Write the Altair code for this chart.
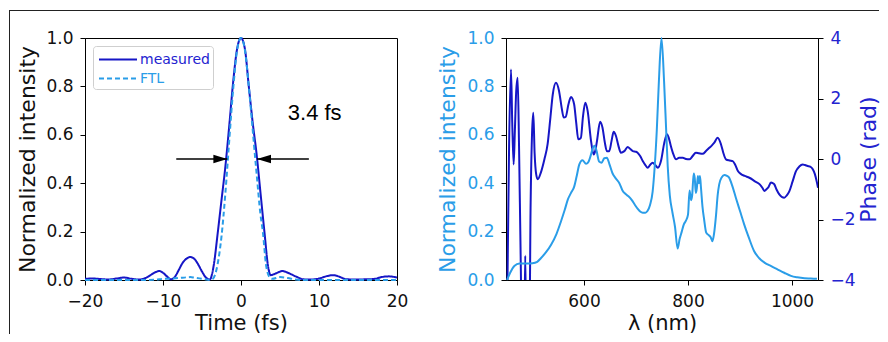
import altair as alt
import pandas as pd

# ---------------- data: left panel (temporal intensity) ----------------
t_meas = [-20, -19, -18, -17, -16, -15, -14, -13, -12, -11, -10.5, -10, -9.5, -9, -8.5, -8,
          -7.5, -7, -6.5, -6, -5.5, -5, -4.5, -4.0, -3.5, -3.0, -2.5, -2.0, -1.5, -1.0, -0.5,
          0, 0.5, 1.0, 1.5, 2.0, 2.5, 3.0, 3.5, 3.8, 4.3, 4.8, 5.3, 6.0, 7.0, 8.0, 9.0, 10.0,
          11.0, 11.8, 12.5, 13.5, 15.0, 16.0, 17.0, 18.0, 19.0, 20.0]
v_meas = [0.005, 0.006, 0.004, 0.002, 0.006, 0.010, 0.005, 0.002, 0.012, 0.032, 0.037, 0.030,
          0.015, 0.003, 0.012, 0.040, 0.070, 0.088, 0.095, 0.088, 0.065, 0.035, 0.010, 0.002,
          0.060, 0.190, 0.330, 0.470, 0.640, 0.820, 0.955, 1.000, 0.955, 0.800, 0.650, 0.520,
          0.360, 0.200, 0.050, 0.020, 0.025, 0.032, 0.037, 0.030, 0.015, 0.003, 0.002, 0.006,
          0.016, 0.020, 0.015, 0.003, 0.002, 0.003, 0.004, 0.012, 0.015, 0.010]
t_ftl = [-20, -12, -11, -10, -9, -8, -7, -6.5, -6, -5, -4.0, -3.6, -3.0, -2.5, -2.0, -1.5,
         -1.0, -0.5, 0, 0.5, 1.0, 1.5, 2.0, 2.5, 2.8, 3.2, 3.6, 4.0, 5.0, 6.0, 7.0, 8.0, 20]
v_ftl = [0.0, 0.0, 0.001, 0.005, 0.006, 0.008, 0.011, 0.012, 0.010, 0.005, 0.0, 0.005,
         0.065, 0.180, 0.360, 0.580, 0.790, 0.950, 1.000, 0.950, 0.800, 0.620, 0.440, 0.270,
         0.200, 0.065, 0.015, 0.005, 0.012, 0.008, 0.002, 0.0, 0.0]
series_names = ["measured", "FTL"]

fwhm_text = ["3.4 fs"]
fwhm_t = [6.0]
fwhm_v = [0.661]
arrow_start = [-8.3, 8.7]
arrow_tip = [-1.75, 2.05]
arrow_level = [0.5, 0.5]

t_ticks = [-20, -10, 0, 10, 20]
int_ticks = [0.0, 0.2, 0.4, 0.6, 0.8, 1.0]

# ---------------- data: right panel (spectrum and phase) ----------------
lam_spec = [452, 458, 466, 476, 490, 501, 510, 517, 527, 537, 547, 556, 563, 569, 575, 581,
            586, 591, 597, 604, 609, 613, 617, 620, 624, 629, 634, 639, 644, 649, 655, 661,
            668, 674, 680, 686, 692, 698, 703, 708, 713, 718, 722, 727, 732, 736, 740, 744,
            749, 754, 758, 761, 765, 770, 775, 780, 784, 788, 792, 796, 800, 803, 806, 808,
            811, 813, 815, 817, 819, 821, 823, 825, 828, 831, 835, 840, 844, 847, 850, 854,
            857, 860, 865, 870, 875, 879, 885, 892, 900, 908, 917, 927, 937, 947, 960, 972,
            985, 998, 1010, 1024, 1036, 1048]
v_spec = [0.0, 0.03, 0.058, 0.068, 0.068, 0.069, 0.075, 0.09, 0.115, 0.147, 0.19, 0.244,
          0.29, 0.333, 0.36, 0.385, 0.43, 0.478, 0.495, 0.48, 0.49, 0.515, 0.545, 0.555,
          0.535, 0.49, 0.485, 0.503, 0.505, 0.478, 0.44, 0.42, 0.40, 0.37, 0.355, 0.345,
          0.33, 0.31, 0.295, 0.283, 0.278, 0.278, 0.285, 0.31, 0.365, 0.47, 0.62, 0.82, 1.0,
          0.82, 0.62, 0.47, 0.35, 0.28, 0.22, 0.13, 0.17, 0.20, 0.23, 0.245, 0.27, 0.37,
          0.33, 0.35, 0.44, 0.42, 0.36, 0.38, 0.43, 0.40, 0.43, 0.38, 0.30, 0.25, 0.196,
          0.185, 0.175, 0.16, 0.19, 0.27, 0.35, 0.395, 0.425, 0.434, 0.43, 0.423, 0.39, 0.34,
          0.285, 0.23, 0.175, 0.12, 0.09, 0.072, 0.057, 0.044, 0.03, 0.017, 0.011, 0.007,
          0.006, 0.005]
lam_phase = [451, 452.5, 456, 459.6, 462, 464.7, 467, 469.5, 472.4, 475, 478, 481, 485, 487,
             489, 495, 497, 500, 502.5, 505, 508, 511, 517, 524, 530, 535, 540, 546, 552, 557,
             561, 565, 570, 575, 581, 585, 589, 594, 598, 602.5, 607, 613.5, 618.6, 622, 625,
             631, 635.5, 640, 644, 648.5, 653, 657, 661.5, 666, 671, 677.5, 684, 689, 694,
             700, 703, 708, 713, 718, 722.5, 727, 732, 737, 742, 748, 754, 759.6, 763, 767,
             772, 777, 783, 790, 796, 803, 809, 815, 821, 828, 835, 841, 846, 850.6, 857,
             863.5, 868, 873, 880, 886, 891, 896, 902, 909, 918, 928, 938, 943, 947, 951, 954,
             959.6, 963, 966, 970, 975.6, 981, 985, 990, 995, 1001, 1007.7, 1014, 1020.5,
             1025, 1030, 1035, 1040, 1044, 1048, 1050]
phase = [-6.0, -4.5, 0.5, 2.96, 1.2, -0.18, 0.9, 2.2, 2.69, 0.5, -3.0, -6.0, -6.0, -3.2,
         -6.0, -6.0, -2.0, 0.8, 1.53, 0.2, -0.5, -0.67, -0.45, 0.0, 0.49, 1.3, 2.14, 2.52,
         2.25, 1.7, 1.37, 1.40, 1.8, 2.05, 1.81, 1.2, 0.65, 0.70, 1.4, 1.86, 1.59, 0.6, 0.15,
         0.3, 0.6, 1.23, 1.04, 0.55, 0.26, 0.26, 0.6, 0.90, 0.76, 0.45, 0.21, 0.26, 0.40,
         0.33, 0.26, 0.24, 0.21, 0.1, -0.07, -0.2, -0.29, -0.2, -0.12, -0.2, -0.29, -0.07,
         0.5, 0.82, 0.7, 0.43, 0.15, -0.01, 0.04, 0.04, 0.0, -0.01, 0.1, 0.21, 0.19, 0.17,
         0.27, 0.37, 0.45, 0.54, 0.70, 0.48, 0.2, -0.01, -0.05, -0.07, -0.2, -0.40, -0.5,
         -0.56, -0.62, -0.73, -0.84, -0.95, -1.06, -1.0, -0.95, -0.78, -0.8, -0.84, -1.0,
         -1.17, -1.26, -1.28, -1.2, -1.06, -0.75, -0.40, -0.25, -0.18, -0.2, -0.23, -0.25,
         -0.34, -0.5, -0.78, -0.95]
lam_ticks = [600, 800, 1000]
phase_ticks = [-4, -2, 0, 2, 4]

# ---------------- styling ----------------
DARK = "#1616c6"
LIGHT = "#2a9de8"
DARK_TEXT = "#2323d0"
FONT = "DejaVu Sans"
W, H = 312, 242

pulse = pd.DataFrame({
    "t": t_meas + t_ftl,
    "v": v_meas + v_ftl,
    "series": [series_names[0]] * len(t_meas) + [series_names[1]] * len(t_ftl),
})
arrows = pd.DataFrame({"start": arrow_start, "tip": arrow_tip, "y": arrow_level})
note = pd.DataFrame({"t": fwhm_t, "v": fwhm_v, "txt": fwhm_text})
spec_df = pd.DataFrame({"lam": lam_spec, "v": v_spec})
phase_df = pd.DataFrame({"lam": lam_phase, "ph": phase})

xs_t = alt.Scale(domain=[-20, 20], nice=False, zero=False)
ys_i = alt.Scale(domain=[0, 1], nice=False, zero=False)
xs_l = alt.Scale(domain=[450, 1050], nice=False, zero=False)
ys_p = alt.Scale(domain=[-4, 4], nice=False, zero=False)

ax_t = alt.Axis(values=t_ticks, format="d", title="Time (fs)", titleY=49,
                titleBaseline="alphabetic", titleFontSize=21, labelPadding=8,
                labelFlush=False)
ax_i = alt.Axis(values=int_ticks, format=".1f", title="Normalized intensity",
                titleX=-50.5, titleBaseline="alphabetic", titleAngle=270, labelPadding=7)

leg = alt.Legend(
    title=None, orient="none", legendX=8, legendY=8,
    symbolType="M -2 0 L 2 0", symbolSize=361, symbolStrokeWidth=2,
    symbolOffset=11.5, labelOffset=11.5, padding=3, rowPadding=1,
    labelFont=FONT, labelFontSize=14,
    labelColor={"expr": "datum.value === 'measured' ? '%s' : '%s'" % (DARK_TEXT, LIGHT)},
    strokeColor="#cfcfcf", fillColor="#ffffff", cornerRadius=3,
)

lines = alt.Chart(pulse).mark_line(strokeWidth=2, interpolate="monotone").encode(
    x=alt.X("t:Q", scale=xs_t, axis=ax_t),
    y=alt.Y("v:Q", scale=ys_i, axis=ax_i),
    color=alt.Color("series:N", scale=alt.Scale(domain=series_names, range=[DARK, LIGHT]),
                    legend=leg),
    strokeDash=alt.StrokeDash("series:N",
                              scale=alt.Scale(domain=series_names, range=[[1, 0], [5, 3]]),
                              legend=leg),
)

shafts = alt.Chart(arrows).mark_rule(color="black", strokeWidth=1.5).encode(
    x=alt.X("start:Q", scale=xs_t, axis=ax_t),
    x2="tip:Q",
    y=alt.Y("y:Q", scale=ys_i, axis=ax_i),
)
head_right = alt.Chart(arrows.iloc[[0]]).mark_point(
    shape="M -1 -0.6 L 1 0 L -1 0.6 Z", size=196, filled=True, color="black",
    opacity=1, xOffset=-7).encode(
    x=alt.X("tip:Q", scale=xs_t, axis=ax_t), y=alt.Y("y:Q", scale=ys_i, axis=ax_i))
head_left = alt.Chart(arrows.iloc[[1]]).mark_point(
    shape="M 1 -0.6 L -1 0 L 1 0.6 Z", size=196, filled=True, color="black",
    opacity=1, xOffset=7).encode(
    x=alt.X("tip:Q", scale=xs_t, axis=ax_t), y=alt.Y("y:Q", scale=ys_i, axis=ax_i))

label = alt.Chart(note).mark_text(align="left", baseline="alphabetic", font="Liberation Sans",
                                  fontSize=22, color="black").encode(
    x=alt.X("t:Q", scale=xs_t, axis=ax_t), y=alt.Y("v:Q", scale=ys_i, axis=ax_i), text="txt:N")

# thin frame of the figure (top and left edges)
frame_df = pd.DataFrame({"k": [0]})
frame_top = alt.Chart(frame_df).mark_rule(color="#222222", strokeWidth=1).encode(
    x=alt.value(-76), x2=alt.value(794), y=alt.value(-27.5))
frame_left = alt.Chart(frame_df).mark_rule(color="#222222", strokeWidth=1).encode(
    x=alt.value(-75.5), y=alt.value(-27.5), y2=alt.value(296))

left = alt.layer(lines, shafts, head_right, head_left, label, frame_top, frame_left).properties(
    width=W, height=H)

ax_l = alt.Axis(values=lam_ticks, format="d", title="λ (nm)", titleY=49,
                titleBaseline="alphabetic", titleFontSize=21, labelPadding=8,
                labelFlush=False)

phase_line = alt.Chart(phase_df).mark_line(color=DARK, strokeWidth=2, clip=True,
                                           interpolate="monotone").encode(
    x=alt.X("lam:Q", scale=xs_l, axis=ax_l),
    y=alt.Y("ph:Q", scale=ys_p,
            axis=alt.Axis(orient="right", values=phase_ticks, format="d", title="Phase (rad)",
                          titleAngle=270, titleX=57, titleBaseline="alphabetic",
                          labelColor=DARK_TEXT, titleColor=DARK_TEXT, labelPadding=7)),
)
spec_line = alt.Chart(spec_df).mark_line(color=LIGHT, strokeWidth=2,
                                         interpolate="monotone").encode(
    x=alt.X("lam:Q", scale=xs_l, axis=ax_l),
    y=alt.Y("v:Q", scale=ys_i,
            axis=alt.Axis(orient="left", values=int_ticks, format=".1f",
                          title="Normalized intensity", titleX=-51.5, titleAngle=270,
                          titleBaseline="alphabetic", labelColor=LIGHT, titleColor=LIGHT,
                          labelPadding=7)),
)
right = alt.layer(phase_line, spec_line).resolve_scale(y="independent").properties(
    width=W, height=H)

chart = alt.hconcat(left, right, spacing=109, bounds="flush").properties(
    padding={"left": 0, "top": 1, "right": 0, "bottom": 0}
).configure(font=FONT).configure_view(stroke="black", strokeWidth=1).configure_axis(
    domainColor="black", tickColor="black", tickSize=5, domainWidth=1, tickWidth=1,
    labelFont=FONT, labelFontSize=17, labelColor="#111111",
    titleFont=FONT, titleFontSize=22, titleFontWeight="normal", titleColor="#111111",
    grid=False,
)

chart.save("out.html", embed_options={"renderer": "svg", "actions": False})
